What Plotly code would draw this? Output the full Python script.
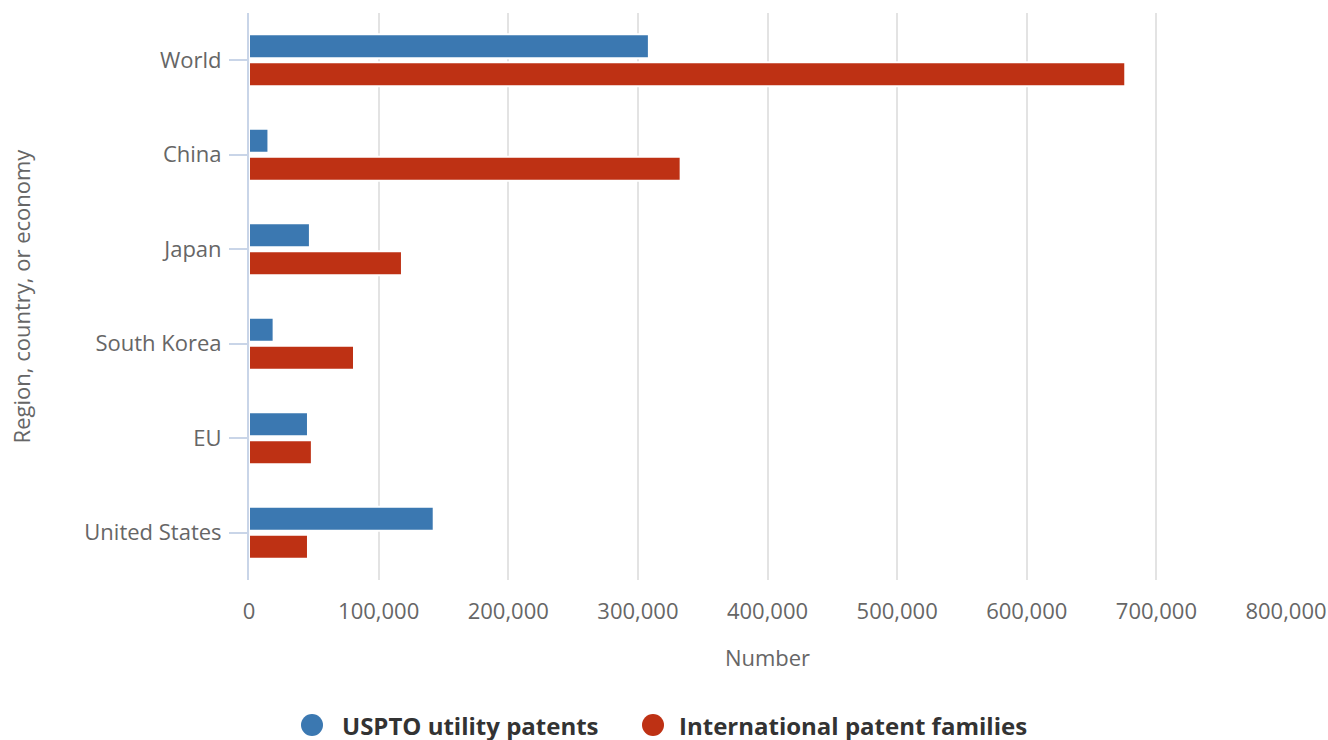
import plotly.graph_objects as go

regions = ["World", "China", "Japan", "South Korea", "EU", "United States"]
uspto = [308500, 15000, 47000, 19000, 45500, 142500]
ipf = [676000, 333000, 118000, 81000, 48500, 45500]
series_names = ["USPTO utility patents", "International patent families"]
x_ticks = [0, 100000, 200000, 300000, 400000, 500000, 600000, 700000, 800000]
x_tick_labels = ["0", "100,000", "200,000", "300,000", "400,000", "500,000", "600,000", "700,000", "800,000"]

BLUE = "#3b78b1"
RED = "#be3114"
FONT = "Open Sans"

W, H = 1328, 740
ML, MR, MT, MB = 249, 42, 13, 160
PW = W - ML - MR
PH = H - MT - MB

fig = go.Figure()
for name, vals, col in [(series_names[0], uspto, BLUE), (series_names[1], ipf, RED)]:
    fig.add_trace(go.Bar(
        y=regions, x=vals, orientation="h", name=name,
        marker=dict(color=col, line=dict(color="white", width=2)),
        showlegend=False, hoverinfo="x+y",
    ))

# manual legend (large circular markers)
ly = 1 - (725 - MT) / PH
r = 11
for name, col, cx_px, tx_px in [
    (series_names[0], BLUE, 312 - ML, 340 - ML),
    (series_names[1], RED, 653 - ML, 677 - ML),
]:
    cx = cx_px / PW
    fig.add_shape(type="circle", xref="paper", yref="paper",
                  x0=cx - r / PW, x1=cx + r / PW, y0=ly - r / PH, y1=ly + r / PH,
                  fillcolor=col, line=dict(width=0))
    fig.add_annotation(xref="paper", yref="paper", x=tx_px / PW, y=ly,
                       xanchor="left", yanchor="middle", showarrow=False,
                       text="<b>" + name + "</b>",
                       font=dict(family=FONT, size=24, color="#333333"))

fig.update_layout(
    width=W, height=H,
    margin=dict(l=ML, r=MR, t=MT, b=MB),
    paper_bgcolor="white", plot_bgcolor="white",
    barmode="group", bargap=0.408, bargroupgap=0.143,
    font=dict(family=FONT, color="#666666", size=22),
    showlegend=False,
    xaxis=dict(
        range=[0, 800000], tickvals=x_ticks, ticktext=x_tick_labels,
        showgrid=True, gridcolor="#e3e3e3", gridwidth=2,
        zeroline=False, showline=False, ticks="", automargin=False,
        ticklabelstandoff=16,
        tickfont=dict(size=22, color="#666666"),
        title=dict(text="Number", font=dict(size=22, color="#666666"), standoff=26),
    ),
    yaxis=dict(
        categoryorder="array", categoryarray=regions, autorange="reversed",
        showline=True, linecolor="#c9d5e8", linewidth=2,
        ticks="outside", ticklen=18, tickcolor="#c9d5e8", tickwidth=2,
        ticklabelstandoff=3,
        showgrid=False, zeroline=False, automargin=False,
        tickfont=dict(size=22, color="#666666"),
        title=dict(text="Region, country, or economy", font=dict(size=22, color="#666666"), standoff=48),
    ),
)

fig.write_html(
    "out.html",
    config={"displayModeBar": False},
    post_script="document.body.style.margin='0';document.body.style.overflow='hidden';",
)
